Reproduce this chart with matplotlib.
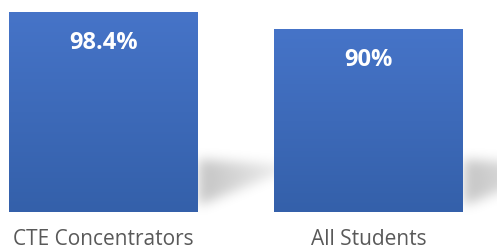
import numpy as np
import matplotlib
matplotlib.use('Agg')
import matplotlib.pyplot as plt
from matplotlib.path import Path
from matplotlib.colors import LinearSegmentedColormap

# chart data
categories = ['CTE Concentrators', 'All Students']
values = [98.4, 90]
value_labels = ['98.4%', '90%']

# layout (pixels at dpi 100)
W, H = 497, 250
BASE_PX = 38          # baseline height above bottom
SPACING_PX = 265      # distance between bar centres
FIRST_PX = 103.5      # centre of first bar
BAR_W = 189 / 265
PX_PER_UNIT = 2.0325  # vertical pixels per percent

TOP_COL = '#4674C8'
BOT_COL = '#3460AA'


def blur(a, sigma):
    '''simple separable gaussian blur'''
    r = int(3 * sigma)
    k = np.exp(-0.5 * (np.arange(-r, r + 1) / sigma) ** 2)
    k /= k.sum()
    a = np.apply_along_axis(lambda m: np.convolve(m, k, mode='same'), 0, a)
    a = np.apply_along_axis(lambda m: np.convolve(m, k, mode='same'), 1, a)
    return a


def shadow_image():
    '''rgba image of the floor shadow, in pixel units relative to bar corner'''
    xs = np.arange(-10, 130)
    ys = np.arange(-10, 75)
    gx, gy = np.meshgrid(xs, ys)
    poly = Path([(0, 6), (0, 53), (90, 47), (90, 42), (0, 6)])
    mask = poly.contains_points(np.c_[gx.ravel(), gy.ravel()]).reshape(gx.shape)
    mask = blur(mask.astype(float), 6)
    fade = np.clip(1 - np.maximum(gx, 0) / 125, 0, 1)
    alpha = 0.24 * mask * fade
    alpha[gx < 0] = 0
    img = np.zeros(gx.shape + (4,))
    img[..., 3] = alpha
    return img, (xs[0], xs[-1], ys[0], ys[-1])


def main():
    fig = plt.figure(figsize=(W / 100, H / 100), dpi=100)
    ax = fig.add_axes([0, BASE_PX / H, 1, 1 - BASE_PX / H])
    ax.set_xlim(-FIRST_PX / SPACING_PX, (W - FIRST_PX) / SPACING_PX)
    ax.set_ylim(0, (H - BASE_PX) / PX_PER_UNIT)
    for s in ax.spines.values():
        s.set_visible(False)

    x = np.arange(len(categories))

    # shadows behind bars
    img, (x0, x1, y0, y1) = shadow_image()
    for xi in x:
        xr = xi + BAR_W / 2
        ax.imshow(img, origin='lower', interpolation='bilinear', aspect='auto',
                  extent=(xr + x0 / SPACING_PX, xr + x1 / SPACING_PX,
                          y0 / PX_PER_UNIT, y1 / PX_PER_UNIT),
                  zorder=1, clip_on=False)

    bars = ax.bar(x, values, width=BAR_W, color='none', zorder=2)

    # vertical gradient fill
    cmap = LinearSegmentedColormap.from_list('bar', [BOT_COL, TOP_COL])
    grad = np.linspace(0, 1, 256).reshape(-1, 1)
    for b in bars:
        im = ax.imshow(grad, cmap=cmap, origin='lower', aspect='auto',
                       extent=(b.get_x(), b.get_x() + b.get_width(), 0, b.get_height()),
                       zorder=3)
        im.set_clip_path(b)

    for xi, v, lab in zip(x, values, value_labels):
        ax.text(xi, v - 31 / PX_PER_UNIT, lab, ha='center', va='center',
                color='white', fontsize=17, fontweight='bold',
                family='Open Sans', zorder=4)

    ax.set_xticks(x)
    ax.set_xticklabels(categories, fontsize=15, color='#595959', family='Open Sans')
    ax.tick_params(axis='x', length=0, pad=12)
    ax.set_yticks([])
    ax.set_xlim(-FIRST_PX / SPACING_PX, (W - FIRST_PX) / SPACING_PX)

    fig.savefig('out.png', dpi=100)


if __name__ == '__main__':
    main()
